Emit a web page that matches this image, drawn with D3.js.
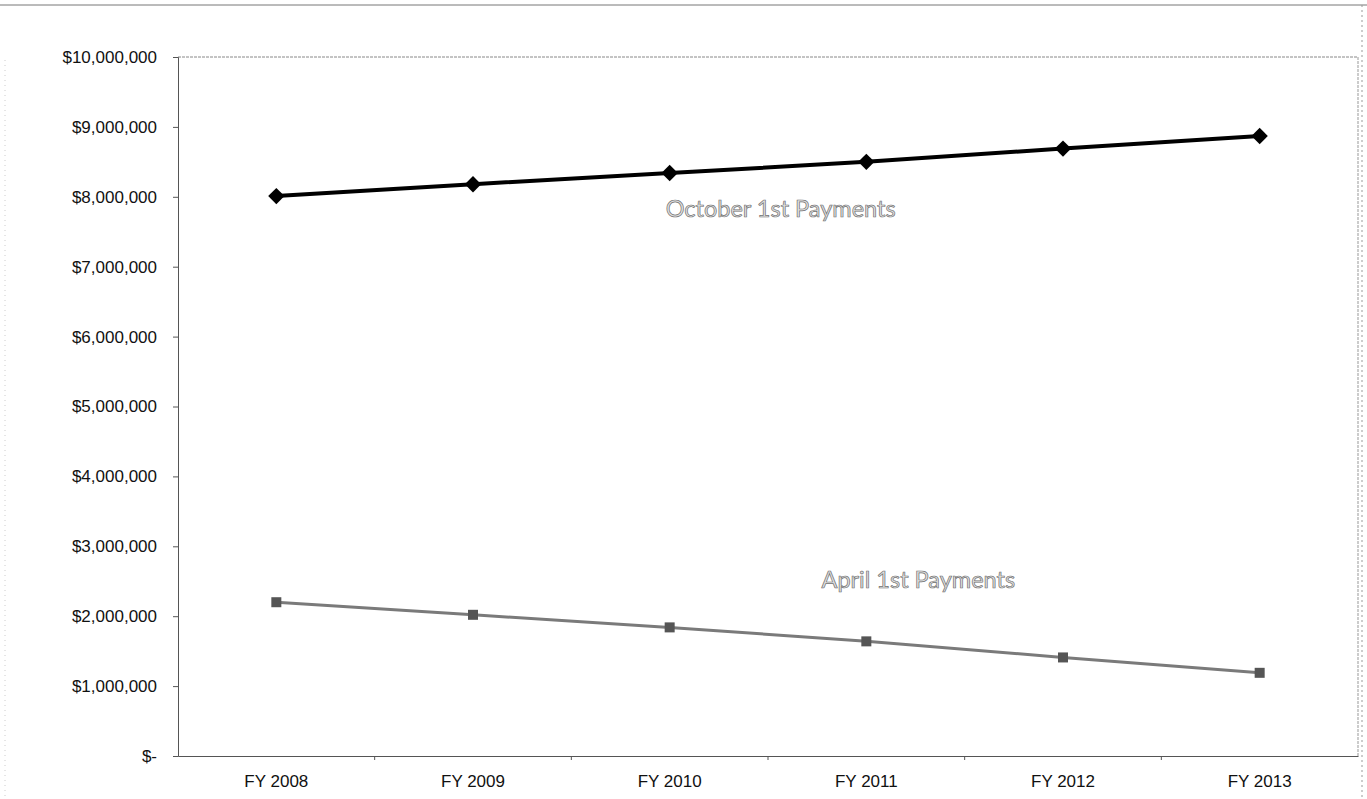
<!DOCTYPE html>
<html>
<head>
<meta charset="utf-8">
<script src="https://cdn.jsdelivr.net/npm/d3@7"></script>
<style>
  html, body { margin: 0; padding: 0; background: #fff; }
  svg { display: block; }
</style>
</head>
<body>
<script>
// Fiscal years and the two payment series (dollars)
const categories = ["FY 2008", "FY 2009", "FY 2010", "FY 2011", "FY 2012", "FY 2013"];
const octoberPayments = [8010000, 8180000, 8340000, 8500000, 8690000, 8870000];
const aprilPayments = [2200000, 2020000, 1840000, 1640000, 1410000, 1190000];
const yTicks = [0, 1000000, 2000000, 3000000, 4000000, 5000000, 6000000, 7000000, 8000000, 9000000, 10000000];
const seriesLabels = ["October 1st Payments", "April 1st Payments"];

const W = 1367, H = 799;
const margin = { top: 57, right: 9, bottom: 43, left: 178 };
const innerW = W - margin.left - margin.right;
const innerH = H - margin.top - margin.bottom;

const svg = d3.select("body").append("svg").attr("width", W).attr("height", H);

// outer frame lines
svg.append("line").attr("x1", 0).attr("x2", W).attr("y1", 5).attr("y2", 5)
  .attr("stroke", "#777").attr("stroke-width", 1);
svg.append("line").attr("x1", W - 5).attr("x2", W - 5).attr("y1", 5).attr("y2", H)
  .attr("stroke", "#999").attr("stroke-width", 1).attr("stroke-dasharray", "2,3");
svg.append("line").attr("x1", 5).attr("x2", 5).attr("y1", 60).attr("y2", H)
  .attr("stroke", "#ccc").attr("stroke-width", 1).attr("stroke-dasharray", "1,4");

const g = svg.append("g").attr("transform", `translate(${margin.left},${margin.top})`);

const x = d3.scaleBand().domain(categories).range([0, innerW]);
const y = d3.scaleLinear().domain([0, 10000000]).range([innerH, 0]);

// plot area border (top and right)
g.append("line").attr("x1", 0).attr("x2", innerW).attr("y1", 0).attr("y2", 0)
  .attr("stroke", "#888").attr("stroke-dasharray", "3,1");
g.append("line").attr("x1", innerW).attr("x2", innerW).attr("y1", 0).attr("y2", innerH)
  .attr("stroke", "#999").attr("stroke-dasharray", "3,1");

const fmt = v => v === 0 ? "$-" : "$" + d3.format(",")(v);

// y axis
const yAxis = g.append("g").call(
  d3.axisLeft(y).tickValues(yTicks).tickFormat(fmt).tickSize(5).tickPadding(16)
);
yAxis.attr("font-size", null);
yAxis.select(".domain").attr("stroke", "#555");
yAxis.selectAll(".tick line").attr("stroke", "#555");
yAxis.selectAll("text").attr("font-family", "Liberation Sans, Arial, sans-serif")
  .style("font-size", "17px").attr("fill", "#111");

// x axis with ticks between categories
const xAxis = g.append("g").attr("transform", `translate(0,${innerH})`).call(
  d3.axisBottom(x).tickSize(0).tickPadding(19)
);
xAxis.attr("font-size", null);
xAxis.select(".domain").attr("stroke", "#555");
xAxis.selectAll("text").attr("font-family", "Liberation Sans, Arial, sans-serif")
  .style("font-size", "17px").attr("fill", "#111");
g.append("g").selectAll("line").data(categories.slice(1)).join("line")
  .attr("x1", d => x(d)).attr("x2", d => x(d))
  .attr("y1", innerH).attr("y2", innerH + 4).attr("stroke", "#555");

const cx = d => x(d) + x.bandwidth() / 2;
const line = d3.line().x(d => cx(d.c)).y(d => y(d.v));

const octData = categories.map((c, i) => ({ c, v: octoberPayments[i] }));
const aprData = categories.map((c, i) => ({ c, v: aprilPayments[i] }));

// April series: gray line with square markers
g.append("path").datum(aprData).attr("d", line)
  .attr("fill", "none").attr("stroke", "#7a7a7a").attr("stroke-width", 3);
g.selectAll(".sq").data(aprData).join("rect").attr("class", "sq")
  .attr("x", d => cx(d.c) - 5).attr("y", d => y(d.v) - 5)
  .attr("width", 10).attr("height", 10).attr("fill", "#555");

// October series: black line with diamond markers
g.append("path").datum(octData).attr("d", line)
  .attr("fill", "none").attr("stroke", "#000").attr("stroke-width", 4);
const diamond = d3.symbol().type(d3.symbolDiamond2).size(170);
g.selectAll(".dm").data(octData).join("path").attr("class", "dm")
  .attr("transform", d => `translate(${cx(d.c)},${y(d.v)})`)
  .attr("d", diamond).attr("fill", "#000");

// series labels
const labelStyle = sel => sel
  .attr("font-family", "Lato, 'Open Sans', sans-serif").style("font-size", "23.5px")
  .attr("fill", "#e2e2e2").attr("stroke", "#707070").attr("stroke-width", 0.7)
  .attr("text-anchor", "middle");
g.append("text").attr("x", cx("FY 2010") + 111).attr("y", y(octoberPayments[2]) + 44)
  .text(seriesLabels[0]).call(labelStyle);
g.append("text").attr("x", cx("FY 2011") + 52).attr("y", y(aprilPayments[3]) - 53)
  .text(seriesLabels[1]).call(labelStyle);
</script>
</body>
</html>
